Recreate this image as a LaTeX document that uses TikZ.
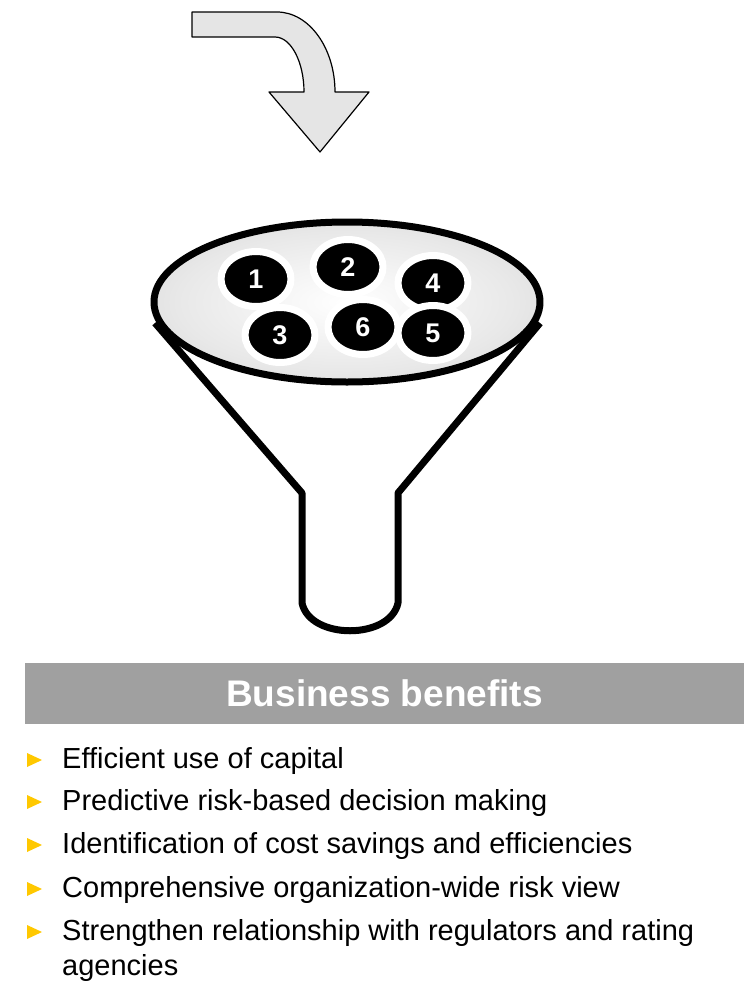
\documentclass[tikz,border=0pt]{standalone}
\usepackage{fontspec}
\setmainfont{Liberation Sans}
\usepackage{tikz}
\usetikzlibrary{shapes,positioning}

\definecolor{bannergray}{HTML}{A0A0A0}
\definecolor{benefitgold}{HTML}{FFC800}
\pgfdeclareradialshading{funnelglow}{\pgfpoint{0bp}{0bp}}{color(0bp)=(white); color(22bp)=(gray!18); color(50bp)=(gray!50)}

\begin{document}
\begin{tikzpicture}[x=1pt,y=-1pt,line join=round]
\tikzstyle{riskball}=[ellipse,draw=white,line width=7pt,fill=black,text=white,inner sep=0pt,
minimum width=70pt,minimum height=55pt,font=\fontsize{27}{27}\bfseries]
\tikzstyle{funnel}=[line width=7pt]
\tikzstyle{banner}=[fill=bannergray,text=white,minimum width=719pt,minimum height=61pt,
font=\fontsize{37}{37}\bfseries]
\tikzstyle{benefit}=[anchor=base west,inner sep=0pt,font=\fontsize{29}{35}\selectfont]

\useasboundingbox (0,0) rectangle (744,983);

% bent arrow into the funnel
\filldraw[fill=gray!20,draw=black,line width=1.2pt]
(192,12) -- (277,12) .. controls (309,12) and (335,48) .. (335,92)
-- (369,92) -- (320,152) -- (269,92) -- (304,92)
.. controls (304,62) and (291,37) .. (275,37) -- (192,37) -- cycle;

% funnel body
\draw[funnel] (155,323) -- (302,493) -- (302,603)
.. controls (310,640) and (390,640) .. (398,603) -- (398,493) -- (540,323);
\shadedraw[funnel,shading=funnelglow] (347,302) ellipse [x radius=193pt, y radius=80pt];

\node[riskball] (n1) at (256,279) {1};
\node[riskball] (n2) at (348,267) {2};
\node[riskball] (n4) at (433,283) {4};
\node[riskball] (n3) at (280,335) {3};
\node[riskball] (n6) at (363,327) {6};
\node[riskball] (n5) at (433,333) {5};

% benefits
\node[banner] (head) at (384.5,693.5) {Business benefits};

\node[benefit] (e1) at (62,768) {Efficient use of capital};
\node[benefit] (e2) at (62,810) {Predictive risk-based decision making};
\node[benefit] (e3) at (62,853) {Identification of cost savings and efficiencies};
\node[benefit] (e4) at (62,897) {Comprehensive organization-wide risk view};
\node[benefit,align=left] (e5) at (62,975) {Strengthen relationship with regulators and rating\\agencies};

\foreach \e/\up in {e1/0,e2/0,e3/0,e4/0,e5/35}
\fill[benefitgold] ([shift={(-35pt,\up pt+1pt)}]\e.base west) -- ++(15pt,7pt) -- ++(-15pt,7pt) -- cycle;
\end{tikzpicture}
\end{document}
